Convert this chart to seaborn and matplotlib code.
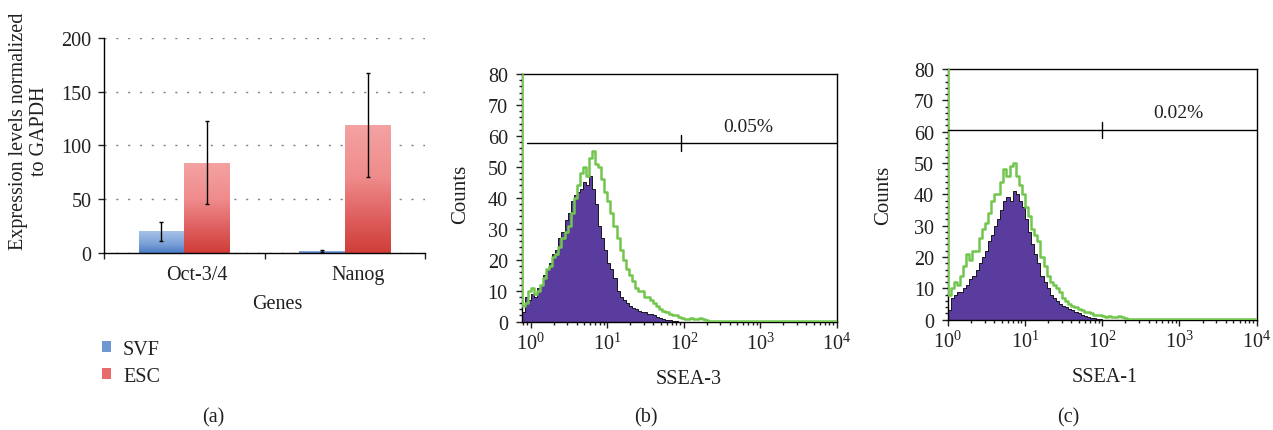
import numpy as np
import pandas as pd
import matplotlib
matplotlib.use("Agg")
import matplotlib.pyplot as plt
import seaborn as sns
from matplotlib.colors import LinearSegmentedColormap
from matplotlib.patches import Patch
from matplotlib.transforms import ScaledTranslation
from matplotlib.ticker import MultipleLocator, LogLocator, NullFormatter

# ---------------- data ----------------
# (a) qPCR expression levels
GENES = ['Oct-3/4', 'Nanog']
GROUPS = ['SVF', 'ESC']
SVF_MEAN = [20, 2]
SVF_ERR = [8.5, 1]
ESC_MEAN = [84, 119]
ESC_ERR = [38.5, 48]

# (b)/(c) flow histograms, counts per bin of 0.04 decade
BIN_W = 0.04
EDGE_START_B = -0.16
EDGE_START_C = -0.04
TAIL_LEVEL = 0.3

SSEA3_ISO = [0, 3, 8, 7, 9, 8, 11, 12, 15, 17, 19, 22, 23, 27, 29, 33, 35, 39, 41, 42,
             43, 45, 44, 47, 43, 38, 31, 27, 23, 19, 17, 14, 10, 8, 7, 6, 5, 4.5, 4, 3.5,
             3, 3, 2.5, 2.5, 2, 1.5, 1.2, 1, 0.7, 0.5, 0.3, 0.2, 0]
SSEA3_POS = [90, 5, 6, 10, 11, 9, 10, 12, 14, 17, 18, 21, 22, 24, 27, 29, 31, 35, 40, 44,
             48, 50, 47, 53, 55, 51, 50, 46, 42, 39, 35, 31, 27, 23, 20, 17, 15, 13, 11, 10,
             10, 8, 8, 7, 6, 5, 4, 3.5, 3, 2.5, 2, 2, 1.5, 1.2, 1, 1, 1.2, 0.8, 1, 1.2,
             1, 0.5, 0.3]
SSEA1_ISO = [0, 3, 7, 8, 9, 9, 10, 11, 13, 14, 16, 18, 20, 22, 25, 27, 30, 32, 35, 38,
             39, 38, 41, 40, 38, 36, 32, 28, 24, 21, 18, 14, 12, 10, 8, 7, 6, 5, 4.5, 4,
             3.5, 3, 2.5, 2, 1.5, 1.2, 1, 0.7, 0.5, 0.3, 0.2, 0]
SSEA1_POS = [90, 8, 10, 12, 11, 14, 17, 21, 19, 22, 22, 26, 29, 31, 34, 38, 40, 40, 44, 48,
             46, 49, 50, 46, 43, 40, 36, 33, 29, 27, 25, 20, 17, 14, 12, 11, 10, 9, 7, 6,
             5, 4.5, 4, 3.5, 3, 2.5, 2.4, 2, 1.6, 1.4, 1.4, 1.2, 1, 1.2, 0.8, 1, 1.2, 1,
             0.5, 0.3]

# gate markers: (left end, y level, mid tick, label, label x, label y)
GATE_B = (0.89, 57.7, 92, '0.05%', 693, 63)
GATE_C = (1.0, 60.6, 100, '0.02%', 966, 66)
GATE_TICK_HALF = 2.6

PURPLE = '#5a3c9e'
GREEN = '#72c64e'

# ---------------- style ----------------
sns.set_style("ticks")
plt.rcParams['font.family'] = ['Liberation Serif', 'DejaVu Serif']
plt.rcParams['mathtext.fontset'] = 'custom'
plt.rcParams['mathtext.rm'] = 'Liberation Serif'
plt.rcParams['mathtext.it'] = 'Liberation Serif:italic'
plt.rcParams['mathtext.bf'] = 'Liberation Serif:bold'
plt.rcParams['text.color'] = '#231f20'
plt.rcParams['axes.labelcolor'] = '#231f20'
plt.rcParams['xtick.color'] = '#231f20'
plt.rcParams['ytick.color'] = '#231f20'

fig = plt.figure(figsize=(12.73, 4.31), dpi=100)
ax_a = fig.add_axes([0.0817, 0.4107, 0.2522, 0.4988])
ax_b = fig.add_axes([0.4098, 0.2513, 0.2475, 0.5747])
ax_c = fig.add_axes([0.7445, 0.2559, 0.2427, 0.5817])

# ---------------- panel (a) ----------------
df = pd.DataFrame({
    'Gene': GENES * 2,
    'Group': [GROUPS[0]] * 2 + [GROUPS[1]] * 2,
    'Value': SVF_MEAN + ESC_MEAN,
    'Err': SVF_ERR + ESC_ERR,
})
sns.barplot(data=df, x='Gene', y='Value', hue='Group', order=GENES, hue_order=GROUPS,
            palette=['#7aa0d8', '#ea7474'], width=0.57, errorbar=None, legend=False,
            ax=ax_a, linewidth=0)

grad_maps = {
    'SVF': LinearSegmentedColormap.from_list('svf', [(0, '#4a7cc4'), (0.45, '#7ea3d9'), (1, '#a7c2e7')]),
    'ESC': LinearSegmentedColormap.from_list('esc', [(0, '#cf3d37'), (0.3, '#e06262'), (0.6, '#f08c8c'), (1, '#f4a2a2')]),
}
grad = np.linspace(0, 1, 256).reshape(-1, 1)
for p in list(ax_a.patches):
    h = p.get_height()
    row = df.iloc[(df['Value'] - h).abs().argmin()]
    x0, w = p.get_x(), p.get_width()
    im = ax_a.imshow(grad, extent=[x0, x0 + w, 0, h], origin='lower', aspect='auto',
                     cmap=grad_maps[row['Group']], zorder=2)
    im.set_clip_path(p)
    p.set_facecolor('none')
    ax_a.errorbar(x0 + w / 2, h, yerr=row['Err'], fmt='none', ecolor='black',
                  elinewidth=1, capsize=1.6, capthick=1, zorder=3)

ax_a.set_xlim(-0.5, 1.5)
ax_a.set_ylim(0, 200)
ax_a.yaxis.set_major_locator(MultipleLocator(50))
ax_a.set_xticks([0, 1])
ax_a.set_xticklabels(GENES)
ax_a.set_xticks([-0.5, 0.5, 1.5], minor=True)
ax_a.tick_params(axis='x', which='major', length=0, pad=9, labelsize=14.5)
ax_a.tick_params(axis='x', which='minor', length=4, width=1, direction='out')
ax_a.tick_params(axis='y', length=4, width=1, direction='out', pad=5, labelsize=14.5)
for lab in ax_a.get_xticklabels():
    lab.set_transform(lab.get_transform() + ScaledTranslation(0.13, 0, fig.dpi_scale_trans))
ax_a.yaxis.grid(True, linestyle=(0, (1.5, 7)), color='#7f7f7f', linewidth=1.0)
ax_a.set_axisbelow(True)
sns.despine(ax=ax_a)
for s in ['left', 'bottom']:
    ax_a.spines[s].set_color('black')
    ax_a.spines[s].set_linewidth(1.0)
ax_a.set_ylabel('Expression levels normalized\nto GAPDH', fontsize=14.5, linespacing=1.1)
ax_a.yaxis.set_label_coords(-0.172, 0.572)
ax_a.set_xlabel('Genes', fontsize=14.5)
ax_a.xaxis.set_label_coords(0.539, -0.19)

handles = [Patch(facecolor='#6f97d2', edgecolor='none', label=GROUPS[0]),
           Patch(facecolor='#e86a6a', edgecolor='none', label=GROUPS[1])]
fig.legend(handles=handles, loc='center left', bbox_to_anchor=(0.080, 0.156),
           frameon=False, fontsize=14.5, handlelength=0.45, handleheight=0.45,
           handletextpad=0.6, labelspacing=0.42, borderpad=0, borderaxespad=0)


# ---------------- panels (b), (c) ----------------
def flow_panel(ax, iso, pos, edge_start, xmin, gate, xlabel):
    ax.set_xscale('log')
    n_iso = len(iso)
    edges_iso = 10 ** (edge_start + BIN_W * np.arange(n_iso + 1))
    ax.fill_between(edges_iso, list(iso) + [iso[-1]], step='post', facecolor=PURPLE,
                    edgecolor='black', linewidth=0.6, zorder=2)
    n_pos = len(pos)
    edges_pos = 10 ** (edge_start + BIN_W * np.arange(n_pos + 1))
    xg = np.append(edges_pos, 1e4)
    yg = list(pos) + [TAIL_LEVEL, TAIL_LEVEL]
    sns.lineplot(x=xg, y=yg, ax=ax, color=GREEN, linewidth=1.8, drawstyle='steps-post',
                 sort=False, estimator=None, zorder=3)

    lo, gy, mid, txt, tx, ty = gate
    ax.plot([lo, 1e4], [gy, gy], color='black', linewidth=1.0, zorder=4)
    ax.plot([mid, mid], [gy - GATE_TICK_HALF, gy + GATE_TICK_HALF], color='black',
            linewidth=1.0, zorder=4)
    ax.text(tx, ty, txt, ha='center', va='center', fontsize=14)

    ax.set_xlim(xmin, 1e4)
    ax.set_ylim(0, 80)
    ax.xaxis.set_major_locator(LogLocator(base=10, numticks=10))
    ax.xaxis.set_minor_locator(LogLocator(base=10, subs=np.arange(2, 10), numticks=20))
    ax.xaxis.set_minor_formatter(NullFormatter())
    ax.yaxis.set_major_locator(MultipleLocator(10))
    ax.yaxis.set_minor_locator(MultipleLocator(2))
    ax.tick_params(which='major', direction='out', length=4, width=1, labelsize=14.5,
                   top=False, right=False)
    ax.tick_params(which='minor', direction='out', length=2, width=1, top=False, right=False)
    ax.tick_params(axis='y', pad=6)
    ax.tick_params(axis='x', pad=4)
    for s in ax.spines.values():
        s.set_visible(True)
        s.set_color('black')
        s.set_linewidth(1.0)
    ax.set_ylabel('Counts', fontsize=15)
    ax.set_xlabel(xlabel, fontsize=14.5)


flow_panel(ax_b, SSEA3_ISO, SSEA3_POS, EDGE_START_B, 10 ** -0.12, GATE_B, 'SSEA-3')
ax_b.yaxis.set_label_coords(-0.164, 0.52)
ax_b.xaxis.set_label_coords(0.531, -0.19)

flow_panel(ax_c, SSEA1_ISO, SSEA1_POS, EDGE_START_C, 1.0, GATE_C, 'SSEA-1')
ax_c.yaxis.set_label_coords(-0.177, 0.50)
ax_c.xaxis.set_label_coords(0.509, -0.19)

# captions
fig.text(213 / 1273, 0.03, '(a)', ha='center', va='center', fontsize=14.5)
fig.text(645.6 / 1273, 0.03, '(b)', ha='center', va='center', fontsize=14.5)
fig.text(1068 / 1273, 0.03, '(c)', ha='center', va='center', fontsize=14.5)

fig.savefig('out.png', dpi=100)
